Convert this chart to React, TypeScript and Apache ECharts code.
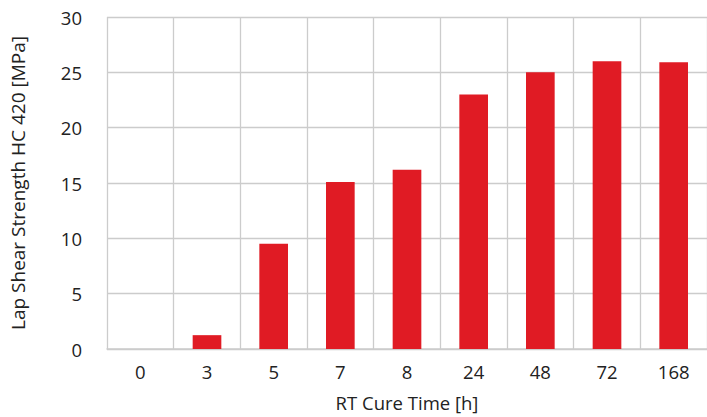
import React, { useEffect, useRef } from "react";
import * as echarts from "echarts";

const categories = ["0", "3", "5", "7", "8", "24", "48", "72", "168"];
const values = [0, 1.25, 9.5, 15.1, 16.2, 23.0, 25.0, 26.0, 25.9];
const yTicks = { min: 0, max: 30, interval: 5 };

const FONT = "'Open Sans', 'Noto Sans', sans-serif";

export default function App() {
  const ref = useRef<HTMLDivElement>(null);
  useEffect(() => {
    if (!ref.current) return;
    const chart = echarts.init(ref.current, null, { renderer: "svg" });
    chart.setOption({
      animation: false,
      backgroundColor: "#ffffff",
      grid: { left: 105, top: 17, width: 606, height: 334 },
      xAxis: {
        type: "category",
        data: categories,
        boundaryGap: true,
        name: "RT Cure Time [h]",
        nameLocation: "middle",
        nameGap: 44,
        nameTextStyle: { fontFamily: FONT, fontSize: 18.5, color: "#222" },
        axisLine: { show: true, lineStyle: { color: "#cccccc", width: 1.5 } },
        axisTick: { show: false },
        axisLabel: { fontFamily: FONT, fontSize: 18.5, color: "#222", margin: 13 },
        splitLine: { show: true, lineStyle: { color: "#cccccc", width: 1.3 } },
      },
      yAxis: {
        type: "value",
        min: yTicks.min,
        max: yTicks.max,
        interval: yTicks.interval,
        name: "Lap Shear Strength HC 420 [MPa]",
        nameLocation: "middle",
        nameGap: 80,
        nameTextStyle: { fontFamily: FONT, fontSize: 19, color: "#222" },
        axisLine: { show: false },
        axisTick: { show: false },
        axisLabel: { fontFamily: FONT, fontSize: 18.5, color: "#222", margin: 25 },
        splitLine: { show: true, lineStyle: { color: "#cccccc", width: 1.3 } },
      },
      series: [
        {
          type: "bar",
          data: values,
          barWidth: "43%",
          itemStyle: { color: "#e01b24" },
        },
      ],
    });
    return () => chart.dispose();
  }, []);
  return <div ref={ref} style={{ width: 707, height: 417, position: "absolute", left: 0, top: 0 }} />;
}
